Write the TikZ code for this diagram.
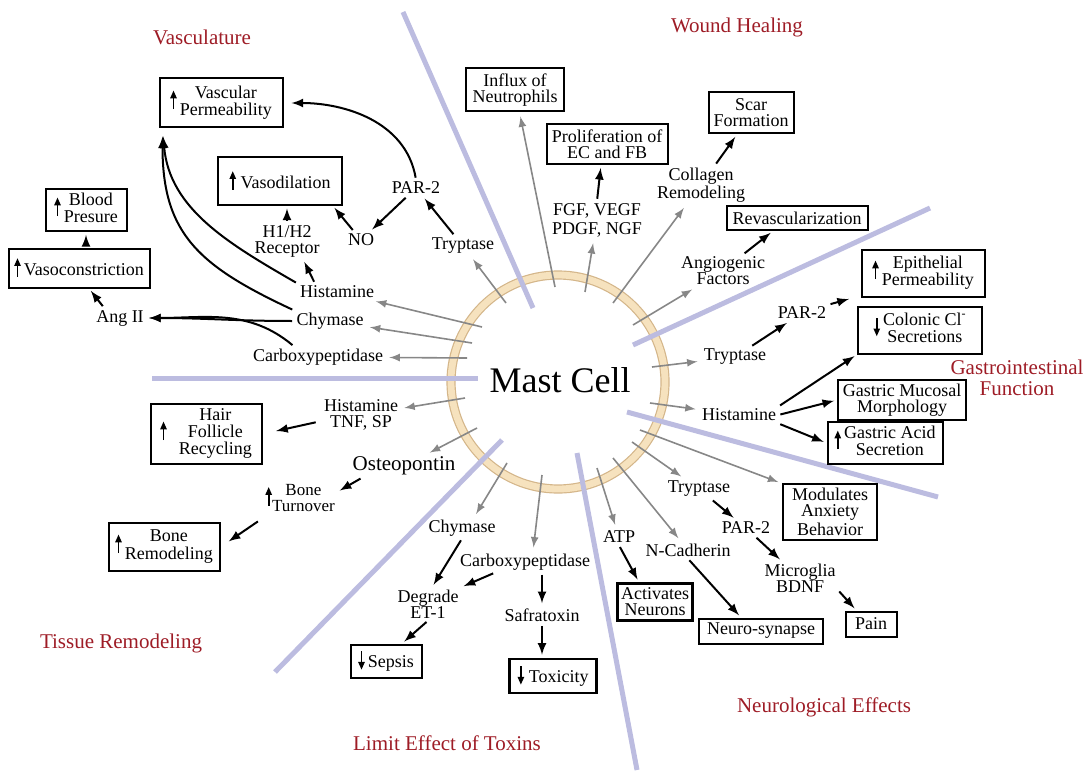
\documentclass[tikz,border=0pt]{standalone}
\usepackage{fontspec}
\setmainfont{Liberation Serif}
\usetikzlibrary{arrows}
\definecolor{divcol}{RGB}{188,188,224}
\definecolor{titlered}{RGB}{158,28,38}
\definecolor{ringedge}{RGB}{212,182,138}
\definecolor{ringfill}{RGB}{246,226,190}
\definecolor{arrgray}{RGB}{135,135,135}
\newcommand{\uparr}{\tikz[baseline=0pt]{\fill (-1.7pt,4.6pt) -- (1.7pt,4.6pt) -- (0,8.4pt) -- cycle;
  \draw[line width=0.9pt] (0,-0.8pt) -- (0,4.8pt);}}
\newcommand{\dnarr}{\tikz[baseline=0pt]{\fill (-1.7pt,3pt) -- (1.7pt,3pt) -- (0,-0.8pt) -- cycle;
  \draw[line width=0.9pt] (0,2.8pt) -- (0,8.4pt);}}
\newcommand{\stk}[1]{\begin{tabular}{@{}c@{}}#1\end{tabular}}

\begin{document}
\begin{tikzpicture}[x=0.5pt,y=-0.5pt,>=latex,
every node/.style={font=\fontsize{9}{8}\selectfont},
lbl/.style={inner sep=1pt,align=center},
box/.style={draw,line width=1pt,inner sep=2pt,align=center},
title/.style={text=titlered,align=center,font=\fontsize{10.5}{10.5}\selectfont},
barr/.style={->,line width=1pt,shorten >=1.5pt,shorten <=1pt},
garr/.style={->,draw=arrgray,line width=0.8pt,shorten >=2pt},
divider/.style={draw=divcol,line width=2.5pt},
ring/.style={draw=ringedge,line width=4.6pt},
ringin/.style={draw=ringfill,line width=3.4pt}]
\useasboundingbox (0,0) rectangle (1090,775);

% cell
\coordinate (cell) at (558,382);
\draw[ring] (cell) circle (53.5pt);
\draw[ringin] (cell) circle (53.5pt);
\node[font=\fontsize{18}{18}\selectfont] (mc) at (560,380) {Mast Cell};

\draw[divider] (403,12) -- (533,308);
\draw[divider] (633,345) -- (930,208);
\draw[divider] (152,378) -- (478,378);
\draw[divider] (627,412) -- (938,497);
\draw[divider] (502,440) -- (275,672);
\draw[divider] (577,453) -- (637,770);

\node[title] (tvas) at (202,37) {Vasculature};
\node[title] (twnd) at (737,27) {Wound Healing};
\node[title] (tgi) at (1017,378) {Gastrointestinal\\Function};
\node[title] (ttis) at (121,643) {Tissue Remodeling};
\node[title] (ttox) at (447,743) {Limit Effect of Toxins};
\node[title] (tneu) at (824,707) {Neurological Effects};

% boxes
\node[box,minimum width=61.5pt,minimum height=24.5pt] (vperm) at (221,103) {\uparr\,\stk{Vascular\\Permeability}};
\node[box,minimum width=62pt,minimum height=23.5pt] (vdil) at (280,181) {\uparr\ Vasodilation};
\node[box,minimum width=40.5pt,minimum height=19.5pt] (bp) at (86,210) {\uparr\,\stk{Blood\\Presure}};
\node[box,minimum width=70.5pt,minimum height=19.5pt] (vcon) at (79,268) {\uparr\,Vasoconstriction};
\node[box,minimum width=55.5pt,minimum height=28.5pt] (hair) at (206,434) {\uparr\hspace{6pt}\stk{Hair\\Follicle\\Recycling}};
\node[box,minimum width=55.5pt,minimum height=24pt] (bremod) at (164,547) {\uparr\,\stk{Bone\\Remodeling}};
\node[box,minimum width=35.5pt,minimum height=16.5pt] (sepsis) at (386,661) {\dnarr\,Sepsis};
\node[box,line width=1.3pt,minimum width=43.5pt,minimum height=17pt] (tox) at (553,676) {\dnarr\ Toxicity};
\node[box,line width=1.3pt,inner sep=1pt,minimum width=37.5pt,minimum height=18.5pt] (actn) at (655,602) {Activates\\Neurons};
\node[box,minimum width=62pt,minimum height=12.5pt] (nsyn) at (761,631) {Neuro-synapse};
\node[box,minimum width=25.5pt,minimum height=12.5pt] (pain) at (871,624) {Pain};
\node[box,minimum width=47pt,minimum height=27.5pt] (anx) at (830,512) {Modulates\\Anxiety\\Behavior};
\node[box,minimum width=57.5pt,minimum height=18.5pt] (gacid) at (885,443) {\uparr\,\stk{Gastric Acid\\Secretion}};
\node[box,minimum width=64pt,minimum height=19.5pt] (gmuc) at (902,400) {Gastric Mucosal\\Morphology};
\node[box,minimum width=62pt,minimum height=23.5pt] (colon) at (920,330) {\dnarr\,\stk{Colonic Cl\textsuperscript{-}\\Secretions}};
\node[box,minimum width=61.5pt,minimum height=23.5pt] (epi) at (923,273) {\uparr\,\stk{Epithelial\\Permeability}};
\node[box,minimum width=70.5pt,minimum height=12pt] (revasc) at (797,218) {Revascularization};
\node[box,minimum width=42.5pt,minimum height=20.5pt] (scar) at (751,113) {Scar\\Formation};
\node[box,minimum width=60.5pt,minimum height=20pt] (prolif) at (607,144) {Proliferation of\\EC and FB};
\node[box,minimum width=49pt,minimum height=21.5pt] (influx) at (515,90) {Influx of\\Neutrophils};

% mediators
\node[lbl] (par1) at (416,188) {PAR-2};
\node[lbl] (tryp1) at (463,246) {Tryptase};
\node[lbl] (no) at (361,240) {NO};
\node[lbl] (h12) at (287,241) {H1/H2\\Receptor};
\node[lbl] (hist1) at (337,292) {Histamine};
\node[lbl] (chy1) at (330,321) {Chymase};
\node[lbl] (cpa1) at (318,357) {Carboxypeptidase};
\node[lbl] (ang) at (120,318) {Ang II};
\node[lbl] (hist2) at (361,415) {Histamine\\TNF, SP};
\node[lbl,font=\fontsize{10.5}{10}\selectfont] (opn) at (404,466) {Osteopontin};
\node[lbl,font=\fontsize{8.5}{7.5}\selectfont] (bturn) at (300,500) {\uparr\stk{Bone\\Turnover}};
\node[lbl] (chy2) at (462,528) {Chymase};
\node[lbl] (cpa2) at (525,562) {Carboxypeptidase};
\node[lbl] (degr) at (428,604) {Degrade\\ET-1};
\node[lbl] (safra) at (542,615) {Safratoxin};
\node[lbl] (atp) at (619,537) {ATP};
\node[lbl] (ncad) at (688,550) {N-Cadherin};
\node[lbl] (tryp3) at (699,489) {Tryptase};
\node[lbl] (par3) at (746,528) {PAR-2};
\node[lbl] (micro) at (800,578) {Microglia\\BDNF};
\node[lbl] (hist3) at (739,415) {Histamine};
\node[lbl] (tryp2) at (735,357) {Tryptase};
\node[lbl] (par2) at (802,313) {PAR-2};
\node[lbl] (angf) at (723,271) {Angiogenic\\Factors};
\node[lbl] (coll) at (701,185) {Collagen\\Remodeling};
\node[lbl,font=\fontsize{9}{9.5}\selectfont] (fgf) at (597,220) {FGF, VEGF\\PDGF, NGF};

% release from the cell
\foreach \x/\y/\tgt [count=\i] in {482/327/hist1, 472/343/chy1, 467/358/cpa1,
  465/398/hist2, 477/428/opn, 597/468/atp, 613/458/ncad, 632/442/tryp3,
  640/430/anx.north west, 650/403/hist3, 652/367/tryp2, 633/325/angf,
  613/303/coll, 585/292/fgf, 555/287/influx, 506/303/tryp1}
{
  \coordinate (g\i) at (\x,\y);
  \draw[garr] (g\i) -- (\tgt);
}
\coordinate (gchy) at (507,463);
\coordinate (gcpa) at (542,475);
\draw[garr] (gchy) -- ([xshift=6pt]chy2.north);
\draw[garr] (gcpa) -- ([xshift=4pt]cpa2.north);

% vasculature
\draw[barr] (tryp1) -- (par1);
\draw[barr] (par1) -- (no);
\draw[barr] (no) -- (vdil.-25);
\draw[barr] (h12.north) -- (h12.north |- vdil.south);
\draw[barr] ([xshift=-11pt]hist1.north) -- ([xshift=8pt]h12.south);
\draw[barr,shorten >=4pt] (par1.north) to[out=100,in=0] (vperm.east);
\draw[barr,shorten >=4pt] (hist1.north west) to[out=150,in=-85] ([xshift=2pt]vperm.south west);
\draw[barr,shorten >=4pt] (chy1.north west) to[out=155,in=-90,looseness=1.2] ([xshift=2pt]vperm.south west);
\draw[barr] (chy1.west) to[out=180,in=0] (ang.east);
\draw[barr] ([xshift=-12pt]cpa1.north) to[out=140,in=0] (ang.east);
\draw[barr] ([xshift=-8pt]ang.north) -- ([xshift=5pt]vcon.south);
\draw[barr] (vcon.north -| bp.south) -- (bp.south);

% wound healing, gastrointestinal
\draw[barr] (fgf.north) -- ([xshift=-3pt]prolif.south);
\draw[barr] ([xshift=7pt]coll.north) -- ([xshift=-7pt]scar.south);
\draw[barr] ([xshift=10pt]angf.north) -- ([xshift=-12pt]revasc.south);
\draw[barr] (tryp2) -- (par2);
\draw[barr,shorten >=6pt] (par2.north east) -- (epi.200);
\draw[barr] (hist3.north east) -- (colon.south west);
\draw[barr] (hist3.east) -- (gmuc.west);
\draw[barr] (hist3.south east) -- (gacid.west);

% neurological
\draw[barr] (tryp3) -- (par3);
\draw[barr] (par3) -- (micro);
\draw[barr] ([yshift=-6pt]micro.east) -- ([xshift=6pt]pain.north west);
\draw[barr] (ncad.south) -- ([xshift=-10pt]nsyn.north);
\draw[barr] (atp.south) -- ([xshift=-8pt]actn.north);

% toxins, tissue
\draw[barr] (safra.north |- cpa2.south) -- (safra.north);
\draw[barr] (safra.south) -- (safra.south |- tox.north);
\draw[barr] (chy2.south) -- ([xshift=2pt]degr.north);
\draw[barr] ([xshift=-15pt]cpa2.south) -- (degr.north east);
\draw[barr] (degr.south) -- ([xshift=8pt]sepsis.north);
\draw[barr] ([xshift=6pt]opn.south west) -- ([yshift=4pt]bturn.east);
\draw[barr,shorten <=3pt,shorten >=5pt] (bturn.south west) -- (bremod.east);
\draw[barr,shorten <=3pt,shorten >=7pt] ([yshift=-3pt]hist2.west) -- (hair.east);
\end{tikzpicture}
\end{document}
